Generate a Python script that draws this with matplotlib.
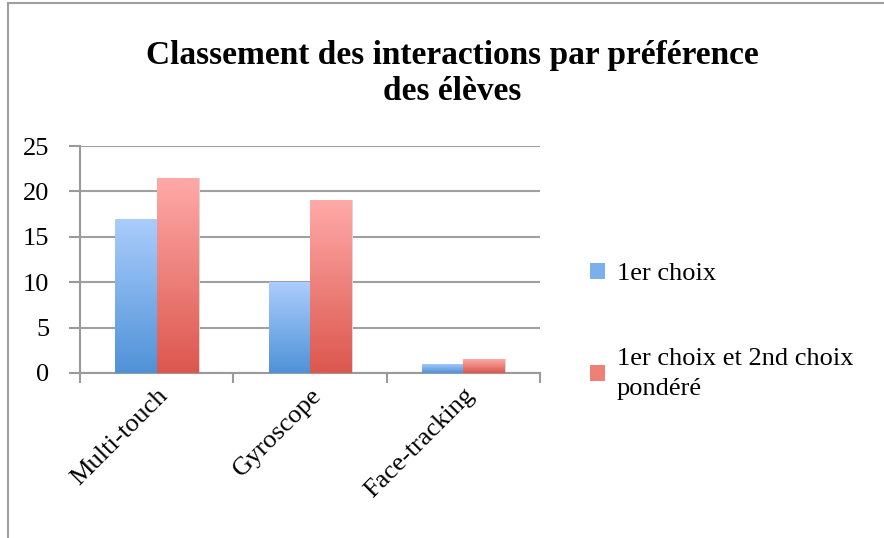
import numpy as np
import matplotlib.pyplot as plt
from matplotlib.colors import LinearSegmentedColormap
from matplotlib.lines import Line2D
from matplotlib.patches import Patch

categories = ['Multi-touch', 'Gyroscope', 'Face-tracking']
premier_choix = [17, 10, 1]
choix_pondere = [21.5, 19, 1.5]
series_labels = ['1er choix', '1er choix et 2nd choix\npondéré']

plt.rcParams['font.family'] = ['Liberation Serif', 'DejaVu Serif']

fig = plt.figure(figsize=(8.84, 5.38), dpi=100)
ax = fig.add_axes([0.0905, 0.3067, 0.5205, 0.4219])

# dégradés clair en haut -> foncé en bas
cmap_bleu = LinearSegmentedColormap.from_list('bleu', ['#4f92d8', '#abcdfd'])
cmap_rouge = LinearSegmentedColormap.from_list('rouge', ['#dc574e', '#ffaaa8'])

x = np.arange(len(categories)) + 0.5
w = 0.27
gradient = np.linspace(0, 1, 256).reshape(-1, 1)

def gradient_bars(xs, values, cmap):
    bars = ax.bar(xs, values, width=w, color='none', edgecolor='none', zorder=3)
    for b in bars:
        x0, y0 = b.get_x(), b.get_y()
        x1, y1 = x0 + b.get_width(), y0 + b.get_height()
        # petite ombre portée
        ax.add_patch(plt.Rectangle((x0 + 0.01, y0), b.get_width(), b.get_height(),
                                   color='#d8d8d8', zorder=2, lw=0))
        im = ax.imshow(gradient, cmap=cmap, extent=(x0, x1, y0, y1),
                       origin='lower', aspect='auto', zorder=3)
        im.set_clip_path(b)
    return bars

gradient_bars(x - w / 2, premier_choix, cmap_bleu)
gradient_bars(x + w / 2, choix_pondere, cmap_rouge)

ax.set_xlim(0, len(categories))
ax.set_ylim(0, 25)
ax.set_yticks(range(0, 26, 5))
ax.set_xticks(np.arange(len(categories) + 1))
ax.set_xticklabels([])
ax.set_xticks(x, minor=True)
ax.set_xticklabels(categories, minor=True, rotation=45, ha='right',
                   rotation_mode='anchor', fontsize=19)
ax.tick_params(axis='x', which='minor', length=0, pad=8)
ax.tick_params(axis='x', which='major', length=7, width=1.5, color='#9a9a9a')
ax.tick_params(axis='y', length=8, width=1.5, color='#9a9a9a', labelsize=19, pad=14)

ax.grid(axis='y', color='#a0a0a0', linewidth=1.5, zorder=0)
ax.set_axisbelow(True)
for s in ['top', 'right']:
    ax.spines[s].set_visible(False)
for s in ['left', 'bottom']:
    ax.spines[s].set_color('#9a9a9a')
    ax.spines[s].set_linewidth(1.5)

fig.text(0.512, 0.863, 'Classement des interactions par préférence\ndes élèves',
         ha='center', va='center', fontsize=24, fontweight='bold', linespacing=1.2)

handles = [Patch(facecolor='#7cb0ec', edgecolor='none'),
           Patch(facecolor='#ee8078', edgecolor='none')]
leg = fig.legend(handles, series_labels, loc='upper left', bbox_to_anchor=(0.641, 0.556),
                 frameon=False, fontsize=19, handlelength=0.55, handleheight=0.55,
                 handletextpad=0.45, labelspacing=2.4)
for t in leg.get_texts():
    t.set_linespacing(1.45)

# cadre du graphique
fig.add_artist(Line2D([0.009, 0.009], [0, 0.994], color='#a0a0a0', lw=1.5))
fig.add_artist(Line2D([0.009, 1], [0.994, 0.994], color='#a0a0a0', lw=1.5))

fig.savefig('out.png', dpi=100)
